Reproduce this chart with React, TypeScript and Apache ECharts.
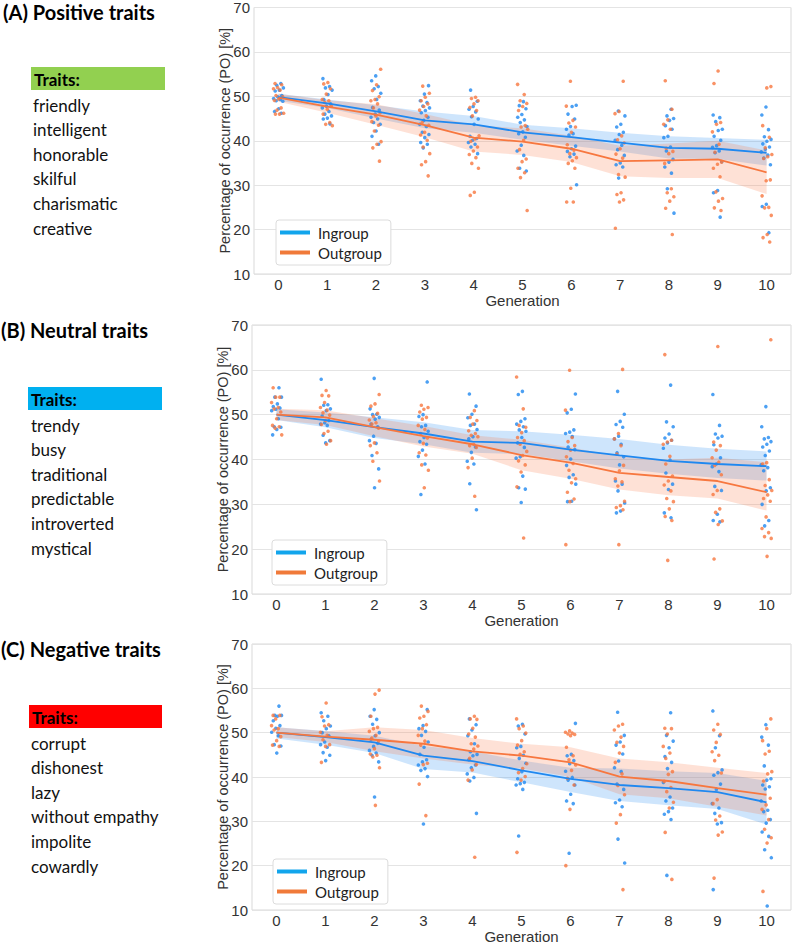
import React, { useEffect, useRef } from "react";
import * as echarts from "echarts";

// Generations on the x axis
const generations = [0, 1, 2, 3, 4, 5, 6, 7, 8, 9, 10];
const genLabels = ["0", "1", "2", "3", "4", "5", "6", "7", "8", "9", "10"];

// Trait lists shown beside each panel
const posTraits = ["friendly", "intelligent", "honorable", "skilful", "charismatic", "creative"];
const neuTraits = ["trendy", "busy", "traditional", "predictable", "introverted", "mystical"];
const negTraits = ["corrupt", "dishonest", "lazy", "without empathy", "impolite", "cowardly"];

// (A) Positive traits: individual chain values per generation
const posIn = [
  [52.9, 52.5, 51.9, 51.4, 51.2, 50.2, 49.9, 49.5, 49.3, 49.0, 48.9, 47.2, 46.6, 46.2],
  [54.0, 52.2, 51.9, 51.4, 50.4, 49.3, 48.3, 47.8, 47.4, 46.6, 46.0, 45.6, 45.1, 44.9, 43.8],
  [54.6, 53.5, 52.2, 51.7, 50.7, 49.3, 47.5, 46.9, 46.0, 45.3, 44.9, 44.1, 43.7, 42.2, 41.0, 39.2],
  [52.4, 50.5, 49.0, 48.6, 47.8, 47.4, 46.8, 46.3, 45.3, 44.6, 43.7, 43.2, 41.9, 41.4, 40.7, 39.6, 39.2, 38.4],
  [51.4, 48.9, 47.7, 47.1, 46.5, 45.4, 44.9, 43.7, 41.0, 40.5, 40.1, 39.6, 39.2, 38.6, 37.1],
  [48.8, 47.9, 47.2, 45.9, 45.3, 44.7, 44.1, 43.2, 42.0, 41.6, 40.8, 39.0, 37.7, 36.7, 33.8, 33.2],
  [48.0, 47.7, 46.0, 44.9, 43.2, 42.6, 41.6, 41.3, 38.8, 38.2, 37.6, 37.0, 36.4, 30.1],
  [46.7, 45.6, 43.7, 43.1, 41.9, 41.4, 40.1, 39.0, 38.0, 36.7, 35.0, 34.6, 34.1, 31.6],
  [47.1, 45.6, 45.0, 44.6, 43.4, 42.6, 41.0, 40.7, 38.6, 37.7, 35.8, 35.2, 34.1, 32.7, 29.2, 23.7],
  [45.8, 45.2, 44.3, 42.6, 42.3, 41.0, 40.1, 38.9, 38.5, 37.7, 37.3, 35.3, 28.8, 28.3, 22.8],
  [47.6, 45.8, 42.5, 40.9, 40.3, 39.9, 39.3, 38.6, 38.1, 37.5, 36.8, 36.1, 34.6, 25.7, 25.2, 19.3],
];
const posOut = [
  [52.9, 52.6, 52.0, 51.7, 51.4, 50.2, 49.9, 49.4, 49.1, 47.4, 46.9, 46.2, 46.0, 46.0],
  [53.1, 52.8, 51.7, 50.5, 49.3, 49.0, 48.6, 47.8, 47.1, 46.0, 44.1, 43.7, 43.4],
  [56.1, 52.6, 51.3, 49.9, 49.3, 49.0, 48.3, 47.4, 46.3, 45.6, 44.3, 43.5, 42.2, 39.8, 39.2, 38.4, 35.4],
  [52.3, 50.7, 49.8, 49.0, 48.3, 47.7, 46.9, 45.6, 44.1, 43.5, 41.9, 41.3, 40.1, 38.6, 37.1, 35.3, 34.6, 32.1],
  [49.8, 49.5, 49.0, 48.3, 47.5, 46.8, 45.6, 41.1, 40.4, 39.9, 38.6, 37.7, 36.9, 36.2, 34.9, 33.8, 28.4, 27.7],
  [52.7, 50.4, 49.0, 48.4, 47.7, 46.8, 43.4, 43.1, 42.6, 40.1, 38.0, 35.9, 35.3, 33.8, 32.8, 31.7, 24.3],
  [53.4, 47.8, 44.6, 44.0, 43.1, 41.9, 39.1, 37.9, 37.1, 36.2, 35.5, 34.9, 33.8, 29.3, 26.2, 26.2],
  [53.4, 46.6, 46.1, 41.1, 40.2, 39.5, 38.2, 37.0, 36.1, 32.4, 31.8, 28.3, 27.9, 26.7, 26.2, 20.3],
  [53.5, 47.1, 44.7, 43.7, 42.6, 38.3, 37.6, 37.1, 34.9, 29.2, 28.3, 27.4, 26.4, 24.8, 18.9],
  [55.7, 52.9, 44.1, 43.7, 42.0, 39.2, 37.4, 35.2, 34.7, 33.8, 31.9, 28.5, 27.0, 26.4, 24.9, 24.3],
  [52.2, 51.9, 43.4, 40.8, 38.4, 36.9, 36.4, 36.0, 31.2, 31.0, 27.6, 25.0, 24.9, 23.2, 18.9, 18.2, 17.2],
];
const posInMean = [49.8, 48.4, 46.6, 44.6, 43.7, 41.9, 40.8, 39.6, 38.4, 38.2, 37.3];
const posInLo = [49.0, 47.4, 45.0, 42.8, 41.8, 40.2, 38.9, 37.6, 36.0, 35.9, 34.4];
const posInHi = [50.6, 49.3, 48.0, 46.6, 45.6, 43.6, 42.8, 41.8, 41.0, 40.6, 40.2];
const posOutMean = [49.7, 47.7, 45.9, 43.5, 40.7, 39.8, 38.2, 35.4, 35.6, 35.8, 32.9];
const posOutLo = [48.8, 46.3, 43.6, 40.8, 37.6, 36.8, 35.2, 32.0, 31.6, 31.6, 28.0];
const posOutHi = [50.6, 49.1, 48.2, 46.0, 43.5, 42.8, 41.1, 38.9, 39.4, 40.0, 37.8];

// (B) Neutral traits
const neuIn = [
  [56.0, 53.9, 53.9, 52.4, 51.8, 51.5, 51.2, 50.9, 49.1, 47.3, 47.2, 46.7, 45.5],
  [57.9, 52.2, 52.1, 51.3, 50.9, 49.7, 48.7, 48.2, 47.9, 47.6, 45.4, 44.2, 43.7],
  [58.1, 51.3, 50.1, 50.0, 49.4, 49.0, 47.9, 47.3, 45.2, 44.2, 43.6, 40.9, 37.9, 33.7],
  [57.3, 50.0, 49.6, 47.6, 47.3, 46.3, 44.9, 44.0, 43.4, 42.1, 40.7, 39.0, 32.2],
  [54.6, 51.9, 50.1, 49.3, 47.9, 47.6, 46.7, 45.1, 44.6, 42.8, 41.6, 39.6, 39.0, 34.6, 28.8],
  [55.2, 54.5, 49.1, 48.5, 47.9, 47.3, 46.6, 46.3, 44.9, 43.7, 42.7, 40.6, 40.3, 36.3, 33.7, 33.4, 30.4],
  [54.6, 51.2, 50.4, 46.6, 46.1, 45.8, 45.1, 42.8, 42.2, 40.1, 38.7, 36.6, 36.0, 34.5, 30.7, 30.6],
  [55.2, 50.1, 48.5, 47.8, 47.2, 45.2, 44.6, 43.4, 41.5, 40.6, 38.8, 35.2, 34.5, 33.0, 30.3, 28.5, 28.1],
  [56.6, 48.4, 47.3, 45.7, 44.8, 44.3, 43.7, 42.5, 39.9, 37.0, 34.5, 33.3, 28.1, 27.0],
  [54.5, 47.6, 45.7, 45.2, 44.8, 43.3, 40.4, 39.0, 38.4, 37.3, 34.0, 33.1, 27.8, 26.4, 26.1],
  [51.8, 47.3, 44.9, 44.6, 44.0, 43.4, 42.8, 41.9, 40.9, 38.8, 38.2, 37.5, 33.7, 33.0, 30.0, 26.4, 25.2],
];
const neuOut = [
  [56.0, 53.9, 53.9, 52.7, 51.6, 51.3, 50.6, 49.1, 47.6, 47.3, 47.0, 45.5],
  [55.4, 54.3, 54.2, 52.7, 51.6, 51.0, 50.4, 49.9, 48.7, 47.8, 46.3, 45.8, 44.2, 43.4],
  [54.5, 52.4, 51.9, 50.3, 49.6, 48.8, 48.2, 47.9, 47.0, 43.7, 43.1, 41.5, 39.6, 35.2],
  [52.1, 51.6, 51.2, 50.6, 49.4, 49.0, 47.6, 46.7, 45.8, 44.8, 43.6, 41.5, 41.0, 38.8, 37.6, 33.7],
  [50.9, 49.4, 48.7, 47.9, 46.4, 45.8, 45.4, 45.1, 43.4, 43.1, 42.7, 40.3, 38.2, 31.8],
  [58.4, 51.3, 47.6, 47.2, 46.0, 44.9, 44.2, 43.4, 41.8, 40.9, 39.7, 38.8, 37.2, 33.9, 22.5],
  [59.9, 51.0, 44.9, 44.0, 43.1, 42.1, 40.6, 39.1, 37.6, 35.7, 34.8, 32.7, 31.2, 30.6, 21.0],
  [60.1, 45.8, 44.6, 43.1, 41.2, 38.7, 37.5, 35.7, 35.0, 34.1, 30.7, 29.7, 29.3, 28.8, 21.0],
  [63.4, 44.3, 43.9, 43.4, 40.7, 39.0, 36.3, 35.2, 34.3, 33.0, 31.3, 30.6, 29.0, 27.3, 26.4, 17.5],
  [65.2, 43.9, 43.1, 42.1, 40.4, 39.4, 38.7, 36.6, 33.1, 32.2, 29.0, 28.2, 26.3, 25.5, 17.8],
  [66.7, 39.3, 39.0, 35.5, 34.2, 33.1, 32.1, 31.3, 30.7, 27.2, 24.6, 23.7, 22.8, 22.4, 18.4],
];
const neuInMean = [50.0, 48.8, 47.2, 45.8, 44.0, 43.7, 42.2, 40.9, 39.7, 39.0, 38.5];
const neuInLo = [48.8, 47.2, 44.8, 43.4, 41.5, 41.2, 39.6, 38.0, 36.8, 35.9, 35.3];
const neuInHi = [51.2, 50.5, 49.4, 48.3, 46.6, 46.3, 45.5, 44.6, 43.3, 42.4, 41.8];
const neuOutMean = [50.0, 49.4, 47.2, 45.2, 43.4, 41.0, 39.3, 37.0, 36.1, 35.2, 32.7];
const neuOutLo = [48.8, 47.7, 45.2, 42.9, 41.3, 37.6, 35.7, 33.3, 32.0, 31.3, 28.6];
const neuOutHi = [51.3, 51.0, 49.2, 47.5, 45.4, 44.4, 42.7, 40.7, 40.0, 40.4, 39.4];

// (C) Negative traits
const negIn = [
  [56.0, 53.9, 53.9, 53.7, 52.7, 51.6, 51.0, 50.1, 49.3, 47.3, 47.0, 45.4],
  [54.5, 53.7, 52.7, 51.5, 50.9, 50.0, 49.3, 47.9, 47.3, 46.7, 45.5, 44.9, 43.7],
  [55.2, 53.7, 53.0, 51.9, 50.0, 49.3, 48.5, 47.6, 46.9, 46.0, 45.4, 44.9, 43.4, 35.5],
  [55.2, 51.6, 50.9, 50.3, 49.4, 47.9, 46.7, 45.1, 43.9, 43.4, 42.7, 41.9, 41.5, 40.1, 29.4],
  [53.1, 51.8, 50.6, 49.3, 47.5, 45.7, 45.1, 44.8, 43.9, 42.7, 42.1, 40.7, 39.9, 39.1, 31.8],
  [51.9, 51.5, 49.7, 46.9, 46.6, 44.9, 44.2, 43.1, 41.2, 39.6, 38.8, 38.5, 38.2, 37.2, 26.7],
  [52.1, 45.1, 44.8, 43.7, 43.0, 41.3, 39.9, 39.3, 38.2, 36.1, 34.6, 34.0, 22.8],
  [54.6, 49.4, 47.9, 47.2, 45.2, 43.6, 42.1, 41.2, 38.4, 37.2, 34.8, 34.2, 33.3, 26.0, 20.6],
  [54.5, 49.4, 48.1, 46.6, 44.6, 43.3, 41.9, 38.8, 35.5, 34.6, 33.0, 32.2, 31.6, 30.4, 17.8],
  [54.9, 49.3, 46.6, 41.6, 41.0, 40.4, 38.4, 37.2, 34.0, 33.0, 31.8, 29.7, 29.4, 14.6],
  [51.8, 49.0, 47.2, 42.5, 39.6, 39.3, 38.2, 37.8, 37.3, 34.6, 32.5, 32.2, 30.4, 29.6, 27.6, 26.6, 23.6, 21.8, 10.9],
];
const negOut = [
  [53.9, 53.9, 53.1, 51.6, 50.9, 50.6, 49.1, 48.2, 47.2, 46.9],
  [56.7, 53.6, 51.8, 51.5, 50.1, 49.4, 48.4, 47.3, 46.9, 43.3],
  [59.6, 58.7, 53.7, 51.2, 50.9, 50.3, 49.4, 48.8, 48.1, 46.4, 45.2, 44.9, 44.5, 42.1, 33.6],
  [56.0, 54.8, 53.7, 53.3, 51.8, 50.9, 49.4, 48.1, 47.2, 43.1, 42.8, 38.4, 31.3],
  [53.7, 53.1, 53.0, 51.0, 49.7, 49.0, 47.5, 47.0, 46.3, 44.2, 42.8, 41.6, 39.3, 21.9],
  [53.1, 51.5, 50.9, 49.9, 48.2, 47.2, 45.7, 45.1, 43.0, 41.9, 41.0, 40.1, 39.3, 23.0],
  [50.4, 50.1, 49.9, 49.7, 49.6, 49.3, 46.7, 44.8, 43.9, 42.7, 41.5, 39.7, 38.2, 32.7, 20.0],
  [51.9, 51.5, 50.6, 49.0, 47.8, 46.9, 45.4, 43.3, 40.7, 38.1, 36.0, 31.5, 29.6, 14.6],
  [51.0, 50.9, 49.7, 46.9, 45.4, 44.2, 41.2, 40.6, 39.0, 37.6, 36.7, 34.3, 33.0, 27.5, 16.9],
  [51.9, 50.6, 49.6, 47.8, 45.7, 44.9, 43.7, 40.9, 34.9, 34.0, 31.2, 30.3, 27.6, 26.9, 17.2],
  [53.1, 50.9, 48.2, 45.8, 45.2, 41.2, 40.7, 39.1, 35.2, 33.7, 32.7, 30.4, 28.2, 26.3, 25.1, 14.2],
];
const negInMean = [50.0, 49.0, 47.8, 44.8, 43.6, 41.5, 39.6, 38.2, 37.5, 36.6, 34.3];
const negInLo = [48.7, 47.3, 45.4, 41.8, 41.0, 38.8, 36.6, 34.6, 33.6, 32.8, 29.3];
const negInHi = [51.2, 50.4, 49.3, 47.0, 45.8, 43.7, 42.1, 41.9, 41.3, 40.9, 39.1];
const negOutMean = [50.0, 49.1, 48.4, 47.5, 45.8, 44.8, 43.3, 40.1, 39.1, 37.5, 36.0];
const negOutLo = [49.0, 47.9, 45.8, 44.2, 42.8, 41.9, 40.0, 36.1, 35.2, 33.3, 31.3];
const negOutHi = [51.2, 50.3, 51.2, 50.6, 48.8, 47.5, 46.7, 44.2, 43.3, 42.1, 40.9];

const BLUE = "#1f88f0";
const ORANGE = "#f7773f";
const BLUE_BAND = "rgba(30,136,240,0.22)";
const ORANGE_BAND = "rgba(250,120,70,0.22)";
const BLUE_KEY = "#12a5ec";
const ORANGE_KEY = "#f07a3a";

const AXIS_FONT = "'Liberation Sans', Arial, sans-serif";
const TEXT_FONT = "Lato, 'Open Sans', sans-serif";

type Panel = {
  title: string;
  traits: string[];
  keyColor: string;
  grid: { left: number; top: number; width: number; height: number };
  legend: { left: number; top: number };
  text: { titleX: number; titleY: number; boxX: number; boxY: number; boxW: number; listX: number; listY: number };
  inPts: number[][];
  outPts: number[][];
  inMean: number[];
  inLo: number[];
  inHi: number[];
  outMean: number[];
  outLo: number[];
  outHi: number[];
};

const panels: Panel[] = [
  {
    title: "(A) Positive traits",
    traits: posTraits,
    keyColor: "#92d050",
    grid: { left: 254, top: 6, width: 537, height: 268 },
    legend: { left: 276, top: 220 },
    text: { titleX: 3, titleY: 12, boxX: 31, boxY: 67, boxW: 134, listX: 33, listY: 105 },
    inPts: posIn, outPts: posOut,
    inMean: posInMean, inLo: posInLo, inHi: posInHi,
    outMean: posOutMean, outLo: posOutLo, outHi: posOutHi,
  },
  {
    title: "(B) Neutral traits",
    traits: neuTraits,
    keyColor: "#00b0f0",
    grid: { left: 252, top: 325, width: 539, height: 269 },
    legend: { left: 272, top: 540 },
    text: { titleX: 1, titleY: 330, boxX: 28, boxY: 387, boxW: 134, listX: 31, listY: 425 },
    inPts: neuIn, outPts: neuOut,
    inMean: neuInMean, inLo: neuInLo, inHi: neuInHi,
    outMean: neuOutMean, outLo: neuOutLo, outHi: neuOutHi,
  },
  {
    title: "(C) Negative traits",
    traits: negTraits,
    keyColor: "#ff0000",
    grid: { left: 252, top: 644, width: 539, height: 269 },
    legend: { left: 273, top: 859 },
    text: { titleX: 1, titleY: 649, boxX: 29, boxY: 705, boxW: 133, listX: 31, listY: 743 },
    inPts: negIn, outPts: negOut,
    inMean: negInMean, inLo: negInLo, inHi: negInHi,
    outMean: negOutMean, outLo: negOutLo, outHi: negOutHi,
  },
];

// deterministic horizontal spread for the strip points
function spread(gen: number, i: number, phase: number): number {
  const u = ((i + 1) * 0.6180339887 + gen * 0.3713 + phase) % 1;
  return (u - 0.5) * 0.22;
}

function stripData(pts: number[][], phase: number) {
  const out: number[][] = [];
  pts.forEach((vals, gi) => {
    vals.forEach((v, i) => out.push([generations[gi] + spread(gi, i, phase), v]));
  });
  return out;
}

function bandSeries(lo: number[], hi: number[], fill: string, xi: number, yi: number) {
  return {
    type: "custom",
    xAxisIndex: xi,
    yAxisIndex: yi,
    silent: true,
    z: 1,
    data: [[generations[0], lo[0]]],
    renderItem: (_params: any, api: any) => {
      const upper = hi.map((v, i) => api.coord([generations[i], v]));
      const lower = lo.map((v, i) => api.coord([generations[i], v])).reverse();
      return {
        type: "polygon",
        shape: { points: upper.concat(lower) },
        style: { fill },
      };
    },
  };
}

export default function App() {
  const ref = useRef<HTMLDivElement>(null);

  useEffect(() => {
    if (!ref.current) return;
    const chart = echarts.init(ref.current, undefined, { renderer: "svg" });

    const grid: any[] = [];
    const xAxis: any[] = [];
    const yAxis: any[] = [];
    const series: any[] = [];
    const legend: any[] = [];
    const graphic: any[] = [];

    panels.forEach((p, k) => {
      grid.push({
        ...p.grid,
        show: true,
        borderColor: "#d9d9d9",
        borderWidth: 1,
        backgroundColor: "transparent",
      });
      // labelled category axis
      xAxis.push({
        type: "category",
        gridIndex: k,
        data: genLabels,
        boundaryGap: true,
        axisLine: { show: false },
        axisTick: { show: false },
        splitLine: { show: false },
        axisLabel: { margin: 3, fontSize: 15, lineHeight: 15, color: "#333", fontFamily: AXIS_FONT },
        name: "Generation",
        nameLocation: "middle",
        nameGap: 19,
        nameMoveOverlap: false,
        nameTextStyle: { fontSize: 15, lineHeight: 15, color: "#333", fontFamily: AXIS_FONT },
      });
      // numeric axis the marks are placed on
      xAxis.push({
        type: "value",
        gridIndex: k,
        min: -0.5,
        max: 10.5,
        show: false,
      });
      yAxis.push({
        type: "value",
        gridIndex: k,
        min: 10,
        max: 70,
        interval: 10,
        axisLine: { show: false },
        axisTick: { show: false },
        splitLine: { lineStyle: { color: "#e4e4e4", width: 1 } },
        axisLabel: { margin: 4, fontSize: 15, color: "#333", fontFamily: AXIS_FONT },
        name: "Percentage of occurrence (PO) [%]",
        nameLocation: "middle",
        nameGap: 22,
        nameMoveOverlap: false,
        nameTextStyle: { fontSize: 14.5, color: "#333", fontFamily: AXIS_FONT },
      });

      const xi = 2 * k + 1;
      const yi = k;
      series.push(bandSeries(p.inLo, p.inHi, BLUE_BAND, xi, yi));
      series.push(bandSeries(p.outLo, p.outHi, ORANGE_BAND, xi, yi));
      series.push({
        type: "scatter",
        name: "Ingroup chains",
        xAxisIndex: xi,
        yAxisIndex: yi,
        symbolSize: 3.6,
        itemStyle: { color: BLUE },
        z: 3,
        data: stripData(p.inPts, 0.11),
      });
      series.push({
        type: "scatter",
        name: "Outgroup chains",
        xAxisIndex: xi,
        yAxisIndex: yi,
        symbolSize: 3.6,
        itemStyle: { color: ORANGE },
        z: 3,
        data: stripData(p.outPts, 0.57),
      });
      series.push({
        type: "line",
        name: "Ingroup",
        xAxisIndex: xi,
        yAxisIndex: yi,
        symbol: "none",
        color: BLUE,
        lineStyle: { color: BLUE, width: 1.8 },
        z: 4,
        data: generations.map((g, i) => [g, p.inMean[i]]),
      });
      series.push({
        type: "line",
        name: "Outgroup",
        xAxisIndex: xi,
        yAxisIndex: yi,
        symbol: "none",
        color: ORANGE,
        lineStyle: { color: ORANGE, width: 1.8 },
        z: 4,
        data: generations.map((g, i) => [g, p.outMean[i]]),
      });

      legend.push({
        left: p.legend.left,
        top: p.legend.top,
        orient: "vertical",
        selectedMode: false,
        itemWidth: 30,
        itemHeight: 4,
        itemGap: 5,
        padding: [5, 9, 5, 4],
        borderColor: "#dcdcdc",
        borderWidth: 1,
        borderRadius: 3,
        backgroundColor: "#fff",
        textStyle: { fontFamily: TEXT_FONT, fontSize: 15, color: "#222", padding: [0, 0, 0, 3] },
        data: [
          { name: "Ingroup", icon: "rect", itemStyle: { color: BLUE_KEY } },
          { name: "Outgroup", icon: "rect", itemStyle: { color: ORANGE_KEY } },
        ],
      });

      const t = p.text;
      graphic.push({
        type: "text",
        x: t.titleX,
        y: t.titleY,
        style: {
          text: p.title,
          fontFamily: TEXT_FONT,
          fontWeight: "bold",
          fontSize: 20,
          fill: "#000",
          verticalAlign: "middle",
        },
      });
      graphic.push({
        type: "rect",
        x: t.boxX,
        y: t.boxY,
        shape: { width: t.boxW, height: 23 },
        style: { fill: p.keyColor },
      });
      graphic.push({
        type: "text",
        x: t.boxX + 3,
        y: t.boxY + 12,
        style: {
          text: "Traits:",
          fontFamily: TEXT_FONT,
          fontWeight: "bold",
          fontSize: 17,
          fill: "#000",
          verticalAlign: "middle",
        },
      });
      p.traits.forEach((tr, i) => {
        graphic.push({
          type: "text",
          x: t.listX,
          y: t.listY + i * 24.6,
          style: {
            text: tr,
            fontFamily: TEXT_FONT,
            fontSize: 17,
            fill: "#111",
            verticalAlign: "middle",
          },
        });
      });
    });

    chart.setOption({
      animation: false,
      backgroundColor: "#fff",
      grid,
      xAxis,
      yAxis,
      legend,
      series,
      graphic,
    });

    return () => chart.dispose();
  }, []);

  return (
    <div
      ref={ref}
      style={{ position: "absolute", left: 0, top: 0, width: 796, height: 945 }}
    />
  );
}
